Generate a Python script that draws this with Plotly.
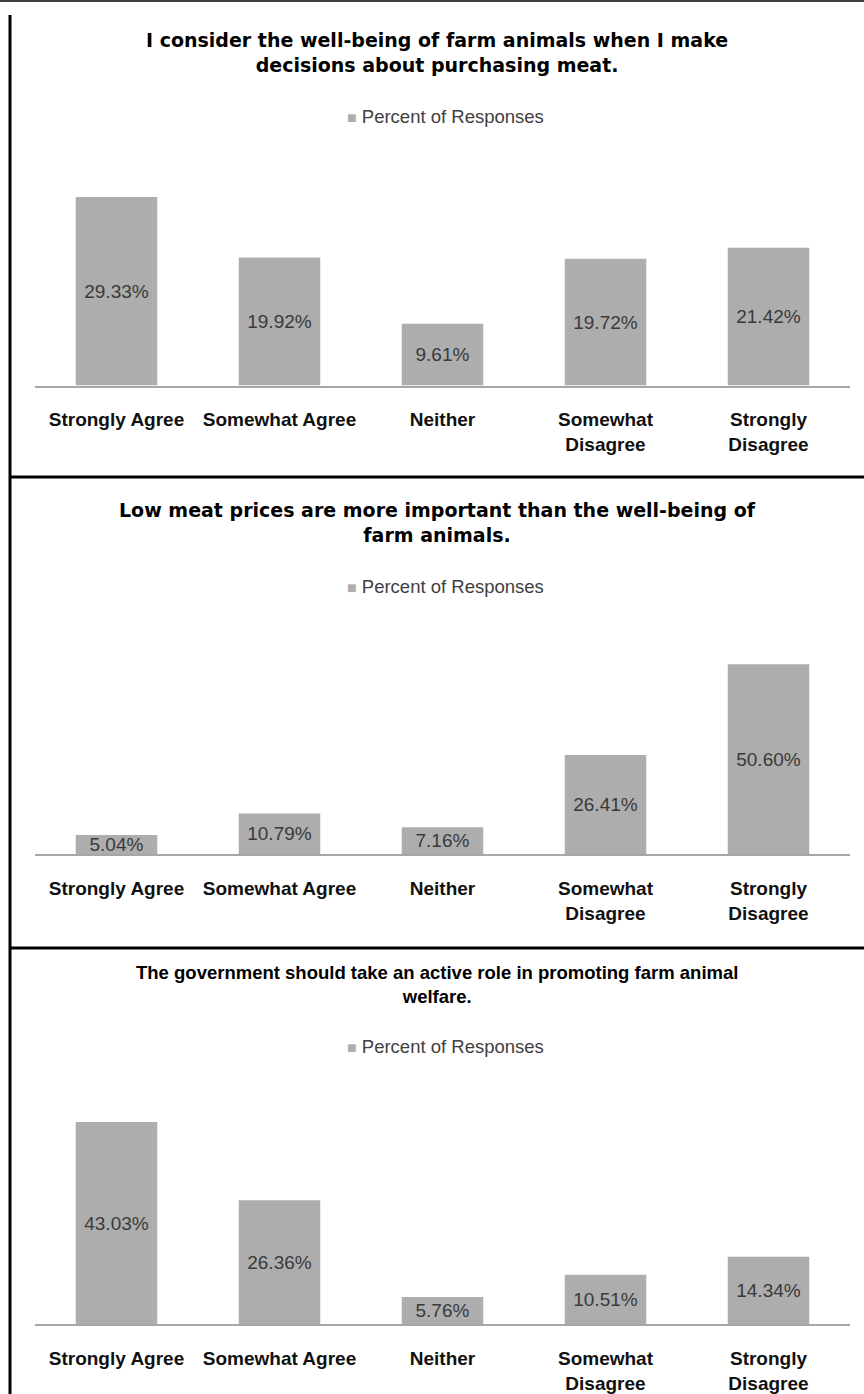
import plotly.graph_objects as go

# ---------------- data ----------------
categories = ["Strongly Agree", "Somewhat Agree", "Neither",
              "Somewhat Disagree", "Strongly Disagree"]
tick_labels = ["Strongly Agree", "Somewhat Agree", "Neither",
               "Somewhat<br>Disagree", "Strongly<br>Disagree"]
series_name = "Percent of Responses"

q1_title = "I consider the well-being of farm animals when I make<br>decisions about purchasing meat."
q1_values = [29.33, 19.92, 9.61, 19.72, 21.42]

q2_title = "Low meat prices are more important than the well-being of<br>farm animals."
q2_values = [5.04, 10.79, 7.16, 26.41, 50.60]

q3_title = "The government should take an active role in promoting farm animal<br>welfare."
q3_values = [43.03, 26.36, 5.76, 10.51, 14.34]

y_max = [35, 60, 50]

# ---------------- layout helpers ----------------
W, H = 864, 1394
BAR = "#adadad"


def py(px):
    return 1 - px / H


def px_x(px):
    return px / W


panels = [
    dict(title=q1_title, values=q1_values, top=160.5, bottom=385.5,
         title_y=53, title_font=dict(family="DejaVu Sans", size=19, color="#000000"),
         legend_y=116.5),
    dict(title=q2_title, values=q2_values, top=629, bottom=854,
         title_y=522, title_font=dict(family="DejaVu Sans", size=19, color="#000000"),
         legend_y=586.5),
    dict(title=q3_title, values=q3_values, top=1089.3, bottom=1324,
         title_y=985, title_font=dict(family="Liberation Sans", size=18.5, color="#000000"),
         legend_y=1046),
]

fig = go.Figure()
annotations = []
layout_axes = {}

for i, p in enumerate(panels):
    suffix = "" if i == 0 else str(i + 1)
    fig.add_trace(go.Bar(
        x=categories,
        y=p["values"],
        name=series_name,
        xaxis="x" + suffix,
        yaxis="y" + suffix,
        marker=dict(color=BAR, line=dict(width=0)),
        text=[f"{v:.2f}%" for v in p["values"]],
        textposition="inside",
        insidetextanchor="middle",
        textangle=0,
        constraintext="none",
        textfont=dict(family="Liberation Sans", size=19, color="#3a3a3a"),
        showlegend=False,
        hoverinfo="skip",
    ))
    layout_axes["xaxis" + suffix] = dict(
        domain=[px_x(35), px_x(850)],
        anchor="y" + suffix,
        tickmode="array",
        tickvals=categories,
        ticktext=tick_labels,
        ticks="",
        ticklabelstandoff=16,
        tickfont=dict(family="Liberation Sans", size=19, color="#111111", weight="bold"),
        showline=True,
        linecolor="#a6a6a6",
        linewidth=2,
        showgrid=False,
        zeroline=False,
        fixedrange=True,
    )
    layout_axes["yaxis" + suffix] = dict(
        domain=[py(p["bottom"]), py(p["top"])],
        anchor="x" + suffix,
        range=[0, y_max[i]],
        visible=False,
        fixedrange=True,
    )
    # chart title
    annotations.append(dict(
        text=f"<b>{p['title']}</b>",
        xref="paper", yref="paper",
        x=px_x(437), y=py(p["title_y"]),
        xanchor="center", yanchor="middle",
        align="center",
        showarrow=False,
        font=p["title_font"],
    ))
    # legend (series key)
    annotations.append(dict(
        text=f'<span style="color:{BAR};font-size:16px">■</span> {series_name}',
        xref="paper", yref="paper",
        x=px_x(445), y=py(p["legend_y"]),
        xanchor="center", yanchor="middle",
        showarrow=False,
        font=dict(family="Liberation Sans", size=18.5, color="#404040"),
    ))

shapes = [
    # top border
    dict(type="line", xref="paper", yref="paper", x0=0, x1=1, y0=py(1), y1=py(1),
         line=dict(color="#404040", width=2)),
    # left border
    dict(type="line", xref="paper", yref="paper", x0=px_x(10), x1=px_x(10),
         y0=py(15), y1=0, line=dict(color="#000000", width=3)),
    # panel separators
    dict(type="line", xref="paper", yref="paper", x0=px_x(10), x1=1,
         y0=py(477), y1=py(477), line=dict(color="#000000", width=3)),
    dict(type="line", xref="paper", yref="paper", x0=px_x(10), x1=1,
         y0=py(948), y1=py(948), line=dict(color="#000000", width=3)),
]

fig.update_layout(
    width=W, height=H,
    margin=dict(l=0, r=0, t=0, b=0),
    paper_bgcolor="#ffffff",
    plot_bgcolor="#ffffff",
    bargap=0.5,
    showlegend=False,
    annotations=annotations,
    shapes=shapes,
    **layout_axes,
)

fig.write_html(
    "out.html",
    config={"displayModeBar": False},
    post_script=(
        "document.documentElement.style.margin='0';"
        "document.documentElement.style.padding='0';"
        "document.documentElement.style.overflow='hidden';"
        "document.body.style.margin='0';"
        "document.body.style.padding='0';"
        "document.body.style.overflow='hidden';"
    ),
)
